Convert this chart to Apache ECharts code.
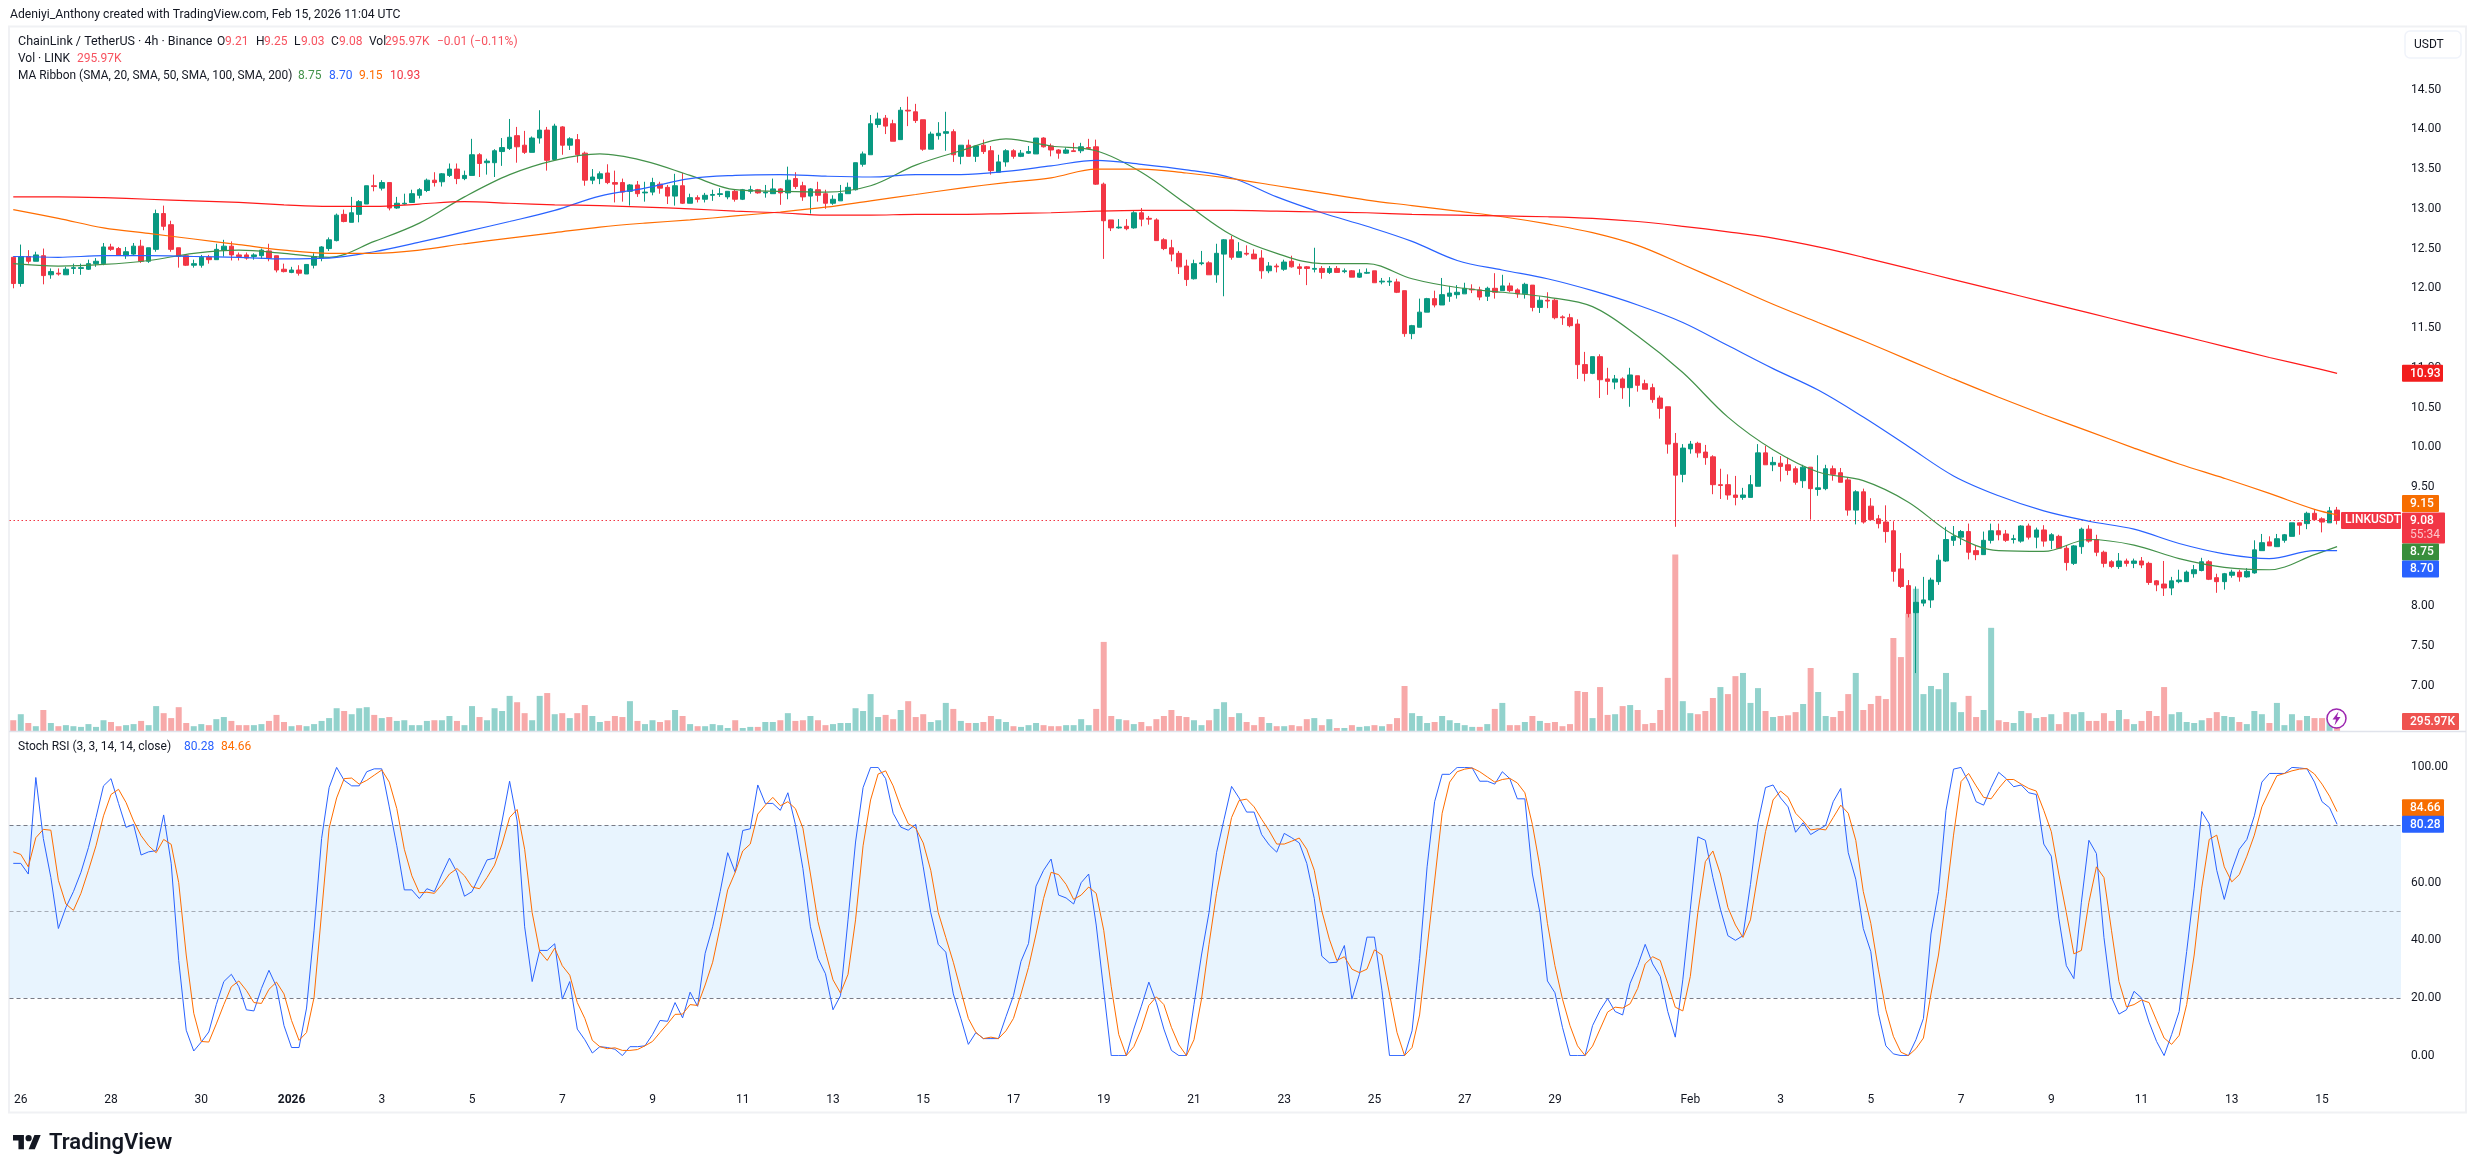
<!DOCTYPE html>
<html>
<head>
<meta charset="utf-8">
<title>LINKUSDT 4h</title>
<style>html,body{margin:0;padding:0;background:#fff}#chart{width:2475px;height:1173px}</style>
<script src="https://cdn.jsdelivr.net/npm/echarts@6/dist/echarts.min.js"></script>
</head>
<body>
<div id="chart"></div>
<script>
// 4h candles, one row per bar: [open, high, low, close]
const ohlc = [
[12.39,12.40,12.00,12.06],[12.06,12.55,12.02,12.40],[12.40,12.48,12.31,12.34],[12.34,12.46,12.34,12.42],[12.41,12.50,12.05,12.16],[12.17,12.25,12.12,12.21],[12.19,12.25,12.16,12.18],[12.17,12.27,12.17,12.24],[12.25,12.31,12.18,12.26],[12.25,12.31,12.17,12.26],
[12.24,12.36,12.23,12.31],[12.31,12.38,12.27,12.34],[12.31,12.57,12.29,12.52],[12.52,12.56,12.47,12.49],[12.50,12.52,12.41,12.42],[12.41,12.52,12.37,12.46],[12.43,12.57,12.41,12.53],[12.53,12.61,12.32,12.34],[12.34,12.51,12.32,12.51],[12.49,12.99,12.46,12.94],
[12.94,13.04,12.73,12.78],[12.80,12.85,12.46,12.49],[12.51,12.51,12.26,12.40],[12.41,12.43,12.28,12.29],[12.29,12.36,12.26,12.31],[12.29,12.42,12.26,12.39],[12.39,12.42,12.31,12.36],[12.36,12.56,12.36,12.49],[12.48,12.61,12.40,12.53],[12.53,12.59,12.35,12.42],
[12.42,12.45,12.35,12.40],[12.42,12.45,12.36,12.38],[12.40,12.44,12.36,12.42],[12.41,12.50,12.37,12.48],[12.47,12.56,12.34,12.38],[12.41,12.41,12.20,12.23],[12.24,12.31,12.20,12.21],[12.20,12.27,12.19,12.23],[12.23,12.29,12.16,12.19],[12.18,12.30,12.18,12.30],
[12.29,12.44,12.25,12.40],[12.38,12.53,12.34,12.52],[12.50,12.64,12.47,12.61],[12.60,12.94,12.59,12.92],[12.93,12.99,12.83,12.84],[12.83,13.15,12.83,12.95],[12.93,13.11,12.83,13.09],[13.06,13.29,13.06,13.29],[13.29,13.43,13.22,13.28],[13.26,13.36,13.23,13.33],
[13.33,13.33,12.98,13.01],[13.01,13.15,13.00,13.07],[13.06,13.19,13.05,13.07],[13.08,13.24,13.08,13.19],[13.17,13.26,13.13,13.24],[13.23,13.38,13.21,13.36],[13.36,13.46,13.28,13.33],[13.34,13.45,13.28,13.44],[13.42,13.57,13.40,13.50],[13.50,13.57,13.31,13.38],
[13.38,13.48,13.36,13.42],[13.42,13.88,13.42,13.68],[13.68,13.70,13.40,13.57],[13.58,13.63,13.43,13.60],[13.58,13.75,13.40,13.73],[13.72,13.89,13.54,13.77],[13.76,14.13,13.74,13.90],[13.92,14.03,13.58,13.78],[13.80,13.98,13.69,13.71],[13.71,13.91,13.71,13.89],
[13.89,14.24,13.82,13.99],[13.99,14.03,13.48,13.61],[13.62,14.07,13.61,14.04],[14.03,14.04,13.68,13.80],[13.80,13.90,13.74,13.88],[13.87,13.94,13.58,13.68],[13.70,13.72,13.29,13.36],[13.36,13.50,13.31,13.40],[13.38,13.47,13.31,13.44],[13.45,13.56,13.31,13.33],
[13.33,13.48,13.08,13.31],[13.33,13.38,13.09,13.21],[13.22,13.31,13.04,13.30],[13.30,13.35,13.15,13.19],[13.20,13.34,13.09,13.21],[13.21,13.39,13.17,13.33],[13.31,13.34,13.19,13.26],[13.27,13.30,13.06,13.16],[13.16,13.44,13.04,13.29],[13.29,13.45,13.06,13.07],
[13.07,13.19,13.07,13.14],[13.14,13.17,13.08,13.12],[13.12,13.20,13.08,13.17],[13.17,13.24,13.10,13.18],[13.18,13.26,13.15,13.19],[13.15,13.22,13.12,13.22],[13.22,13.24,13.09,13.12],[13.12,13.25,13.11,13.24],[13.22,13.29,13.19,13.24],[13.24,13.25,13.19,13.20],
[13.20,13.30,13.14,13.21],[13.19,13.38,13.19,13.25],[13.25,13.26,13.05,13.20],[13.20,13.53,13.12,13.36],[13.38,13.46,13.25,13.28],[13.29,13.34,13.10,13.15],[13.16,13.26,12.94,13.25],[13.24,13.34,13.09,13.17],[13.19,13.24,13.00,13.07],[13.07,13.17,13.05,13.12],
[13.10,13.30,13.10,13.19],[13.19,13.33,13.19,13.27],[13.24,13.58,13.23,13.58],[13.56,13.72,13.53,13.69],[13.68,14.18,13.68,14.07],[14.06,14.21,14.02,14.13],[14.14,14.18,13.94,14.04],[14.07,14.12,13.85,13.85],[13.87,14.28,13.87,14.24],[14.24,14.41,14.04,14.23],
[14.22,14.32,14.08,14.11],[14.12,14.12,13.73,13.75],[13.75,13.97,13.75,13.94],[13.92,14.09,13.87,13.95],[13.95,14.22,13.73,13.97],[13.97,14.00,13.59,13.68],[13.66,13.80,13.56,13.80],[13.80,13.87,13.66,13.66],[13.66,13.80,13.59,13.79],[13.80,13.87,13.69,13.72],
[13.73,13.79,13.43,13.48],[13.46,13.68,13.46,13.59],[13.59,13.75,13.53,13.73],[13.73,13.75,13.63,13.66],[13.66,13.74,13.65,13.70],[13.70,13.79,13.69,13.72],[13.69,13.89,13.69,13.89],[13.89,13.90,13.77,13.78],[13.79,13.82,13.66,13.74],[13.74,13.75,13.63,13.70],
[13.70,13.77,13.69,13.74],[13.73,13.83,13.72,13.72],[13.73,13.83,13.70,13.78],[13.77,13.88,13.75,13.76],[13.78,13.87,13.30,13.31],[13.31,13.33,12.37,12.85],[12.86,12.86,12.72,12.76],[12.76,12.87,12.75,12.77],[12.78,12.87,12.73,12.75],[12.76,12.97,12.75,12.95],
[12.95,13.01,12.78,12.87],[12.88,12.91,12.80,12.87],[12.86,12.88,12.60,12.60],[12.61,12.63,12.48,12.50],[12.51,12.61,12.34,12.43],[12.44,12.47,12.18,12.27],[12.28,12.36,12.03,12.11],[12.12,12.36,12.11,12.31],[12.31,12.47,12.29,12.32],[12.32,12.34,12.17,12.17],
[12.17,12.56,12.07,12.44],[12.43,12.62,11.90,12.61],[12.61,12.66,12.36,12.39],[12.39,12.58,12.39,12.46],[12.44,12.54,12.41,12.43],[12.43,12.49,12.37,12.37],[12.38,12.48,12.12,12.22],[12.22,12.33,12.19,12.28],[12.28,12.31,12.20,12.27],[12.24,12.36,12.22,12.33],
[12.34,12.41,12.26,12.27],[12.27,12.31,12.17,12.25],[12.27,12.28,12.04,12.25],[12.24,12.51,12.20,12.25],[12.25,12.28,12.12,12.20],[12.20,12.28,12.18,12.25],[12.25,12.28,12.20,12.20],[12.21,12.25,12.19,12.22],[12.22,12.23,12.14,12.14],[12.14,12.24,12.13,12.19],
[12.19,12.25,12.18,12.20],[12.22,12.22,12.07,12.07],[12.08,12.13,12.05,12.09],[12.08,12.14,12.03,12.09],[12.08,12.12,11.94,11.95],[11.97,11.97,11.39,11.43],[11.43,11.54,11.36,11.53],[11.51,11.87,11.51,11.70],[11.70,11.88,11.70,11.87],[11.87,11.97,11.76,11.79],
[11.79,12.13,11.79,11.92],[11.90,12.03,11.83,11.94],[11.92,12.04,11.87,11.95],[11.93,12.07,11.93,12.00],[11.99,12.05,11.94,11.98],[11.98,12.02,11.85,11.89],[11.90,12.02,11.84,12.00],[12.00,12.19,11.87,11.95],[11.97,12.17,11.97,12.03],[12.03,12.07,11.95,11.97],
[11.98,12.00,11.88,11.93],[11.93,12.07,11.87,12.05],[12.04,12.04,11.71,11.76],[11.76,11.90,11.69,11.85],[11.85,11.95,11.75,11.84],[11.85,11.87,11.61,11.63],[11.64,11.66,11.54,11.63],[11.63,11.68,11.51,11.53],[11.55,11.61,10.86,11.04],[11.04,11.20,10.83,10.93],
[10.93,11.14,10.92,11.14],[11.14,11.17,10.62,10.85],[10.86,11.00,10.66,10.83],[10.82,10.91,10.73,10.86],[10.86,10.88,10.61,10.75],[10.75,11.00,10.51,10.91],[10.90,10.90,10.70,10.78],[10.80,10.85,10.73,10.73],[10.75,10.80,10.56,10.60],[10.62,10.65,10.36,10.49],
[10.51,10.51,9.92,10.04],[10.05,10.18,9.00,9.65],[9.66,10.04,9.56,9.99],[9.98,10.08,9.92,10.04],[10.05,10.07,9.87,9.93],[9.94,10.03,9.78,9.87],[9.88,9.90,9.41,9.53],[9.53,9.73,9.35,9.52],[9.53,9.66,9.34,9.40],[9.40,9.64,9.27,9.37],
[9.37,9.49,9.34,9.40],[9.37,9.65,9.37,9.53],[9.51,10.04,9.51,9.93],[9.93,10.02,9.78,9.78],[9.78,9.88,9.70,9.81],[9.80,9.89,9.57,9.76],[9.78,9.87,9.65,9.71],[9.73,9.76,9.53,9.56],[9.58,9.78,9.49,9.75],[9.75,9.75,9.09,9.48],
[9.47,9.90,9.39,9.49],[9.48,9.78,9.46,9.73],[9.73,9.77,9.58,9.66],[9.68,9.74,9.56,9.56],[9.59,9.62,9.14,9.21],[9.21,9.46,9.03,9.44],[9.44,9.48,9.04,9.06],[9.26,9.36,9.09,9.09],[9.10,9.15,8.98,9.04],[9.06,9.27,8.80,8.94],
[8.95,9.07,8.31,8.44],[8.47,8.67,8.23,8.25],[8.26,8.33,7.86,7.91],[7.92,8.25,7.16,8.05],[8.04,8.37,8.00,8.08],[8.08,8.36,7.98,8.33],[8.31,8.65,8.27,8.58],[8.57,9.00,8.56,8.84],[8.83,9.01,8.76,8.88],[8.87,8.96,8.77,8.94],
[8.94,9.04,8.59,8.68],[8.70,8.76,8.58,8.65],[8.65,8.94,8.65,8.83],[8.83,9.04,8.79,8.95],[8.95,9.04,8.83,8.90],[8.91,8.96,8.81,8.83],[8.84,8.90,8.79,8.85],[8.82,9.02,8.80,9.01],[9.01,9.04,8.84,8.87],[8.87,8.99,8.73,8.96],
[8.96,9.02,8.75,8.82],[8.83,8.92,8.72,8.90],[8.88,8.90,8.72,8.73],[8.73,8.76,8.45,8.55],[8.54,8.77,8.52,8.76],[8.75,8.99,8.66,8.97],[8.97,9.02,8.80,8.82],[8.84,8.90,8.63,8.68],[8.68,8.70,8.49,8.54],[8.56,8.58,8.48,8.50],
[8.50,8.67,8.47,8.57],[8.57,8.60,8.50,8.54],[8.54,8.60,8.48,8.57],[8.57,8.62,8.48,8.52],[8.54,8.56,8.27,8.30],[8.32,8.33,8.19,8.27],[8.28,8.57,8.13,8.23],[8.23,8.37,8.14,8.32],[8.31,8.46,8.29,8.33],[8.31,8.45,8.31,8.43],
[8.41,8.52,8.36,8.46],[8.45,8.61,8.44,8.56],[8.56,8.58,8.33,8.34],[8.36,8.41,8.17,8.31],[8.31,8.42,8.21,8.41],[8.39,8.46,8.36,8.43],[8.43,8.46,8.31,8.37],[8.37,8.48,8.36,8.44],[8.42,8.83,8.41,8.71],[8.70,8.91,8.70,8.80],
[8.81,8.88,8.76,8.76],[8.75,8.91,8.75,8.85],[8.83,8.91,8.80,8.90],[8.88,9.05,8.88,9.05],[9.05,9.05,8.90,9.02],[9.04,9.19,8.97,9.17],[9.17,9.21,9.08,9.09],[9.10,9.12,8.93,9.06],[9.05,9.25,9.05,9.20],[9.21,9.25,9.03,9.08]
];

// Volume per bar, in thousands of LINK
const volumes = [
334,512,251,157,637,251,157,188,157,136,219,136,334,282,157,188,219,313,188,752,
543,397,720,251,157,219,188,365,428,313,188,188,188,219,313,491,282,157,188,157,
219,313,397,689,606,512,689,720,491,397,428,313,334,188,188,313,334,334,459,313,
188,752,428,334,689,606,1054,867,543,334,1054,1138,512,543,397,543,783,459,282,313,
459,428,898,313,219,334,282,334,637,459,219,157,157,219,188,104,334,104,136,136,
282,282,334,543,313,334,459,334,188,219,251,251,689,606,1107,428,491,365,637,898,
428,512,282,334,846,668,313,251,251,282,459,365,282,157,136,188,251,188,157,157,
188,188,365,188,668,2652,459,365,334,219,282,157,365,459,637,459,428,334,188,334,
668,867,428,543,282,188,428,251,157,157,188,157,365,397,188,365,104,104,188,136,
157,188,157,219,397,1347,543,459,251,282,459,334,251,188,136,136,219,668,846,188,
188,282,459,313,251,282,157,219,1200,1169,397,1315,491,512,752,783,637,219,251,637,
1587,5241,898,543,512,606,992,1315,1107,1639,1733,846,1284,606,428,459,480,574,814,1879,
1169,459,428,606,1107,1733,637,814,1054,960,2767,2203,3497,4228,1107,1347,1253,1733,867,574,
1054,428,637,3069,334,282,251,606,543,397,428,512,219,574,512,574,313,313,543,313,
637,365,219,313,606,459,1315,512,574,282,251,334,397,574,459,428,282,219,606,512,
251,846,188,512,334,459,397,397,397,296
];
// Near-flat bars whose volume colour differs from the candle body
const flippedVolumeBars = [141,143,183,194,227];

// Ribbon averages, read once per day, plus the last bar
const ribbonBars = [0,6,12,18,24,30,36,42,48,54,60,66,72,78,84,90,96,102,108,114,120,126,132,138,144,150,156,162,168,174,180,186,192,198,204,210,216,222,228,234,240,246,252,258,264,270,276,282,288,294,300,306,309];
const ma20 = [12.31,12.28,12.30,12.35,12.44,12.48,12.44,12.39,12.59,12.82,13.15,13.43,13.61,13.69,13.60,13.42,13.24,13.22,13.21,13.29,13.55,13.73,13.88,13.79,13.73,13.46,13.06,12.67,12.44,12.31,12.31,12.12,12.01,11.95,11.89,11.77,11.40,10.94,10.38,9.97,9.69,9.58,9.31,8.90,8.70,8.69,8.84,8.77,8.60,8.49,8.46,8.65,8.75];
const ma50 = [12.40,12.39,12.41,12.41,12.40,12.39,12.37,12.38,12.46,12.58,12.71,12.84,12.98,13.16,13.26,13.38,13.42,13.43,13.41,13.40,13.43,13.43,13.47,13.54,13.61,13.56,13.49,13.39,13.15,12.95,12.78,12.59,12.35,12.23,12.12,11.97,11.79,11.57,11.28,10.99,10.72,10.38,10.01,9.64,9.39,9.20,9.07,8.97,8.79,8.66,8.60,8.70,8.70];
const ma100 = [12.99,12.88,12.76,12.69,12.62,12.55,12.48,12.44,12.44,12.48,12.56,12.63,12.70,12.77,12.82,12.86,12.91,12.96,13.02,13.10,13.18,13.26,13.33,13.39,13.50,13.50,13.45,13.38,13.29,13.20,13.11,13.04,12.97,12.90,12.81,12.70,12.54,12.30,12.05,11.80,11.57,11.34,11.10,10.86,10.63,10.41,10.20,9.99,9.79,9.61,9.42,9.22,9.15];
const ma200 = [13.15,13.15,13.14,13.12,13.10,13.08,13.05,13.03,13.03,13.06,13.09,13.07,13.05,13.04,13.02,13.00,12.97,12.95,12.92,12.92,12.93,12.93,12.94,12.95,12.97,12.98,12.98,12.98,12.97,12.96,12.95,12.93,12.92,12.91,12.90,12.88,12.84,12.78,12.71,12.63,12.52,12.39,12.25,12.11,11.97,11.83,11.69,11.55,11.41,11.27,11.13,11.00,10.93];

// Stochastic RSI, one value per bar
const stochK = [
66.7,66.7,63.0,96.5,75.3,61.8,44.1,51.4,56.9,63.6,72.2,82.6,93.6,96.1,87.5,79.2,80.2,69.6,70.7,71.1,
83.5,66.7,33.0,8.8,1.6,4.7,8.2,17.7,25.7,28.2,23.9,15.9,15.5,23.3,29.6,23.9,10.4,2.8,2.8,16.5,
43.5,75.3,93.0,100,95.5,93.6,93.6,98.5,99.5,99.5,86.3,72.8,57.5,57.5,54.5,57.9,56.9,63.0,68.5,63.6,
55.3,56.9,62.4,67.9,68.5,81.4,95.2,81.4,44.7,25.7,36.5,36.5,38.8,19.6,25.7,9.2,5.5,0.9,3.1,2.8,
2.2,0,3.1,3.1,3.4,7.3,12.2,11.9,18.4,13.1,22.0,17.1,35.5,44.7,56.9,70.4,63.6,78.1,78.7,93.9,
87.5,87.5,85.1,91.2,80.2,64.9,44.7,33.7,28.4,15.9,20.8,47.1,74.1,93.0,100,100,96.1,84.1,79.3,78.2,
80.2,65.5,49.6,38.6,35.9,21.4,12.9,3.9,8.0,5.9,5.9,5.9,13.5,20.8,32.7,38.9,58.8,64.3,68.2,55.7,
54.7,52.6,60.0,63.0,45.3,22.6,0,0,0,9.2,17.1,25.5,18.4,9.2,1.8,0,0,17.7,34.9,49.6,
70.4,82.0,93.4,89.4,84.5,84.5,76.7,73.1,70.6,77.1,75.6,73.8,66.7,54.5,34.5,32.2,32.4,38.2,19.6,28.2,
41.1,41.1,22.6,0,0,0,8.6,33.7,65.5,88.1,97.6,97.6,100,100,99.8,95.2,95.2,94.2,98.5,96.1,
89.1,89.1,63.0,49.6,25.9,21.8,9.8,0,0,0,10.4,15.7,19.8,15.3,14.1,25.1,31.2,38.6,31.8,27.5,
15.3,6.4,26.3,50.8,75.9,74.7,61.8,50.8,41.6,40.0,41.6,59.4,80.8,93.0,93.9,89.4,86.3,77.5,80.8,76.7,
78.3,79.9,88.1,92.7,70.4,61.2,44.1,36.1,14.7,3.4,0.6,0,0,5.5,12.9,42.2,56.9,85.1,99.4,100,
94.9,88.1,86.9,93.0,98.3,96.1,93.3,93.9,91.2,90.6,73.4,69.2,47.7,31.2,26.7,53.2,74.7,70.1,41.0,20.2,
14.4,15.9,22.3,20.0,11.6,4.9,0,7.3,15.3,36.1,58.1,84.7,80.4,64.3,54.2,64.3,71.6,75.0,83.2,94.9,
97.9,97.9,97.9,100,99.8,99.5,94.9,88.1,86.0,80.28
];
const stochD = [
70.7,69.8,65.5,75.6,78.5,78.2,60.8,52.6,50.4,56.3,64.3,72.8,83.2,90.6,92.4,87.8,81.4,76.3,72.8,70.4,
75.0,73.3,60.0,34.9,14.7,4.9,4.7,11.0,17.7,23.9,25.9,22.6,18.4,18.1,23.0,25.5,21.4,12.2,5.3,8.0,
20.2,49.6,78.9,89.4,96.1,96.3,94.2,95.5,97.3,99.1,94.9,85.7,71.6,62.4,56.5,56.7,56.3,59.4,63.0,64.9,
62.4,58.5,57.9,61.8,66.1,73.4,82.6,85.4,71.6,49.6,36.1,33.0,37.3,31.2,27.9,18.4,12.9,5.3,3.1,2.4,
2.7,1.8,1.8,2.1,3.4,4.9,8.0,11.0,14.3,14.4,17.7,17.4,24.5,32.4,44.7,57.5,63.6,71.0,73.4,83.8,
86.9,89.6,86.7,88.1,85.7,78.9,63.0,46.5,36.1,26.3,21.7,28.2,47.1,72.8,88.7,97.7,98.8,93.6,86.3,80.5,
78.9,73.8,64.3,49.6,41.0,32.4,22.6,12.9,8.0,5.9,6.4,5.9,8.6,12.9,21.4,30.6,42.2,54.5,63.6,62.8,
59.4,54.2,55.7,58.5,56.3,43.5,23.9,7.3,0,3.1,9.2,17.4,20.4,17.7,9.8,3.7,0,5.5,19.6,38.6,
56.3,69.8,82.6,88.5,89.0,86.3,82.0,78.0,73.4,73.4,74.4,75.5,71.6,64.3,50.2,40.4,33.0,34.3,30.0,28.8,
30.0,36.7,34.9,21.4,8.0,0,2.8,14.1,37.3,60.6,84.1,94.9,98.5,99.4,99.8,98.5,96.7,94.9,95.8,96.2,
94.6,91.2,80.2,65.5,45.9,31.2,19.6,10.4,3.4,0,3.3,9.2,15.1,16.8,16.5,18.0,23.3,31.8,34.3,33.0,
25.1,16.8,15.5,27.5,49.6,67.3,71.0,63.0,51.4,45.3,41.0,47.1,63.0,77.7,88.7,91.8,89.6,84.1,81.4,78.3,
78.7,78.3,82.6,86.9,84.1,74.7,56.9,45.9,30.0,15.9,6.7,1.2,0,2.4,6.1,21.4,34.9,54.5,76.5,95.1,
97.9,93.6,89.6,89.1,92.7,95.8,95.8,94.2,92.7,91.8,85.1,77.7,63.0,49.6,35.3,36.5,53.2,65.5,61.8,43.5,
25.7,16.9,17.7,19.3,18.4,12.2,6.1,3.9,7.0,17.7,34.9,58.1,75.0,76.5,65.5,60.3,62.8,69.2,76.5,86.3,
91.8,97.1,97.9,98.8,99.4,99.6,97.7,94.2,90.0,84.66
];

// Day labels along the time axis: bar index of each midnight shown
const timeTicks = [[1,'26'],[13,'28'],[25,'30'],[37,'2026'],[49,'3'],[61,'5'],[73,'7'],[85,'9'],[97,'11'],[109,'13'],[121,'15'],[133,'17'],[145,'19'],[157,'21'],[169,'23'],[181,'25'],[193,'27'],[205,'29'],[223,'Feb'],[235,'3'],[247,'5'],[259,'7'],[271,'9'],[283,'11'],[295,'13'],[307,'15']];

const FONT = 'Roboto, "Liberation Sans", sans-serif';
const AXIS_PX = 12;
const INK = '#131722';
const UP = '#089981', DOWN = '#f23645';
const VOL_UP = '#92d2cc', VOL_DOWN = '#f7a9a9';
const C_MA20 = '#43924a', C_MA50 = '#2962ff', C_MA100 = '#ff6d00', C_MA200 = '#ff1a1a';
const BLUE = '#2962ff', ORANGE = '#ff6d00';

const BAND_SLOTS = 318; // room for the empty bars right of the last candle
const categories = Array.from({length: BAND_SLOTS}, (_, i) => String(i));
const tickAt = new Map(timeTicks);
const lastBar = ohlc.length - 1;

const PLOT = {left: 9.5, width: 2391.5};
const PRICE_TOP = 49.8, PRICE_H = 675.75;      // 15.00 .. 6.50
const VOL_TOP = 27, VOL_H = 704.5;
const STOCH_TOP = 767.4, STOCH_H = 288.2;      // 100 .. 0

const zip = (idx, vals) => idx.map((x, k) => [x, vals[k]]);
const rowsToCandle = ohlc.map(([o, h, l, c]) => [o, c, l, h]);
const volumeData = volumes.map((v, i) => {
  let up = ohlc[i][3] >= ohlc[i][0];
  if (flippedVolumeBars.includes(i)) up = !up;
  return {value: v, itemStyle: {color: up ? VOL_UP : VOL_DOWN}};
});
const maLine = (name, vals, color) => ({
  name, type: 'line', xAxisIndex: 0, yAxisIndex: 0, data: zip(ribbonBars, vals),
  showSymbol: false, symbol: 'none', silent: true, z: 6, smooth: 0.35,
  lineStyle: {color, width: 1.2}
});
const hiddenX = (grid) => ({
  type: 'category', gridIndex: grid, data: categories, boundaryGap: true,
  axisLine: {show: false}, axisTick: {show: false}, axisLabel: {show: false}, splitLine: {show: false}
});

const chart = echarts.init(document.getElementById('chart'), null, {renderer: 'canvas'});
chart.setOption({
  animation: false,
  backgroundColor: '#ffffff',
  grid: [
    {left: PLOT.left, width: PLOT.width, top: PRICE_TOP, height: PRICE_H},
    {left: PLOT.left, width: PLOT.width, top: VOL_TOP, height: VOL_H},
    {left: PLOT.left, width: PLOT.width, top: STOCH_TOP, height: STOCH_H}
  ],
  xAxis: [
    hiddenX(0),
    hiddenX(1),
    {
      type: 'category', gridIndex: 2, data: categories, boundaryGap: true,
      axisLine: {show: false}, axisTick: {show: false}, splitLine: {show: false},
      axisLabel: {
        show: true, interval: (i) => tickAt.has(i), margin: 38, hideOverlap: false,
        fontFamily: FONT, fontSize: AXIS_PX, color: INK,
        formatter: (v, i) => tickAt.get(i) === '2026' ? '{y|2026}' : (tickAt.get(i) || ''),
        rich: {y: {fontFamily: FONT, fontSize: AXIS_PX, fontWeight: 'bold', color: INK}}
      }
    }
  ],
  yAxis: [
    {
      type: 'value', gridIndex: 0, position: 'right', min: 6.5, max: 15, interval: 0.5,
      axisLine: {show: false}, axisTick: {show: false}, splitLine: {show: false},
      axisLabel: {
        margin: 10, fontFamily: FONT, fontSize: AXIS_PX, color: INK, padding: [2, 0, 0, 0],
        formatter: (v) => (v < 7 || v > 14.5) ? '' : v.toFixed(2)
      }
    },
    {
      type: 'value', gridIndex: 1, position: 'right', min: 0, max: 20853,
      axisLine: {show: false}, axisTick: {show: false}, axisLabel: {show: false}, splitLine: {show: false}
    },
    {
      type: 'value', gridIndex: 2, position: 'right', min: 0, max: 100, interval: 20,
      axisLine: {show: false}, axisTick: {show: false}, splitLine: {show: false},
      axisLabel: {margin: 10, fontFamily: FONT, fontSize: AXIS_PX, color: INK, padding: [2, 0, 0, 0], formatter: (v) => v.toFixed(2)}
    }
  ],
  series: [
    {
      name: 'Vol', type: 'bar', xAxisIndex: 1, yAxisIndex: 1, data: volumeData,
      barWidth: 6, silent: true, z: 1
    },
    {
      name: 'LINKUSDT', type: 'candlestick', xAxisIndex: 0, yAxisIndex: 0, data: rowsToCandle,
      barWidth: 5, silent: true, z: 4, clip: false,
      itemStyle: {color: UP, color0: DOWN, borderColor: UP, borderColor0: DOWN, borderWidth: 1},
      markLine: {
        silent: true, symbol: 'none', animation: false,
        label: {show: false},
        lineStyle: {color: DOWN, type: [1.5, 2.5], width: 1},
        data: [{yAxis: ohlc[lastBar][3]}]
      }
    },
    maLine('MA20', ma20, C_MA20),
    maLine('MA50', ma50, C_MA50),
    maLine('MA100', ma100, C_MA100),
    maLine('MA200', ma200, C_MA200),
    {
      name: 'Stoch K', type: 'line', xAxisIndex: 2, yAxisIndex: 2, data: stochK,
      showSymbol: false, symbol: 'none', silent: true, z: 5,
      lineStyle: {color: BLUE, width: 1},
      markArea: {
        silent: true, animation: false,
        itemStyle: {color: 'rgba(33,150,243,0.1)'},
        data: [[{yAxis: 20}, {yAxis: 80}]]
      },
      markLine: {
        silent: true, symbol: 'none', animation: false,
        label: {show: false},
        data: [
          {yAxis: 80, lineStyle: {color: '#787b86', type: [4, 3], width: 1}},
          {yAxis: 50, lineStyle: {color: 'rgba(120,123,134,0.6)', type: [4, 3], width: 1}},
          {yAxis: 20, lineStyle: {color: '#787b86', type: [4, 3], width: 1}}
        ]
      }
    },
    {
      name: 'Stoch D', type: 'line', xAxisIndex: 2, yAxisIndex: 2, data: stochD,
      showSymbol: false, symbol: 'none', silent: true, z: 6,
      lineStyle: {color: ORANGE, width: 1}
    }
  ]
});

// Overlay furniture: frame, legend text, price tags, logo
const priceY = (p) => chart.convertToPixel({gridIndex: 0, yAxisIndex: 0}, p);
const stochY = (v) => chart.convertToPixel({gridIndex: 2, yAxisIndex: 2}, v);
const label = (x, y, text, color, extra) => ({
  type: 'text', x, y, z: 50,
  style: Object.assign({text, fill: color || INK, font: AXIS_PX + 'px ' + FONT, textVerticalAlign: 'middle', textAlign: 'left'}, extra || {})
});
const box = (x, y, w, h, fill, r) => ({
  type: 'rect', z: 40, shape: {x, y, width: w, height: h, r: r === undefined ? 1 : r}, style: {fill}
});
const tag = (yCentre, h, w, fill, text) => [
  box(2402, yCentre - h / 2, w, h, fill),
  label(2410, yCentre + 0.5, text, '#ffffff', {font: '500 ' + AXIS_PX + 'px ' + FONT})
];

const closeY = priceY(ohlc[lastBar][3]);
const kY = stochY(stochK[lastBar]);
const V_TXT = '#f7525f';
const LOGO = {x: 13, y: 1132, s: 0.78};
const logoPt = ([px, py]) => [LOGO.x + px * LOGO.s, LOGO.y + py * LOGO.s];
const graphic = [
  {type: 'rect', z: 0, shape: {x: 9, y: 26.5, width: 2457, height: 1086}, style: {fill: 'none', stroke: '#f0f1f4', lineWidth: 2}},
  {type: 'line', z: 3, shape: {x1: 9, y1: 731.5, x2: 2466, y2: 731.5}, style: {stroke: '#e0e3eb', lineWidth: 1.5}},

  label(10, 15, 'Adeniyi_Anthony created with TradingView.com, Feb 15, 2026 11:04 UTC', INK, {font: '12.2px ' + FONT}),
  label(18, 42, 'ChainLink / TetherUS · 4h · Binance', INK, {font: '12.5px ' + FONT}),
  label(217, 42, 'O'), label(225, 42, '9.21', V_TXT),
  label(256, 42, 'H'), label(264, 42, '9.25', V_TXT),
  label(294, 42, 'L'), label(301, 42, '9.03', V_TXT),
  label(331, 42, 'C'), label(339, 42, '9.08', V_TXT),
  label(369, 42, 'Vol'), label(385, 42, '295.97K', V_TXT),
  label(437, 42, '−0.01 (−0.11%)', V_TXT),
  label(18, 59, 'Vol · LINK'), label(77, 59, '295.97K', V_TXT),
  label(18, 76, 'MA Ribbon (SMA, 20, SMA, 50, SMA, 100, SMA, 200)', INK, {font: '11.9px ' + FONT}),
  label(298, 76, '8.75', '#43924a'), label(329, 76, '8.70', BLUE), label(359, 76, '9.15', ORANGE), label(390, 76, '10.93', DOWN),
  label(18, 747, 'Stoch RSI (3, 3, 14, 14, close)', INK, {font: '12px ' + FONT}),
  label(184, 747, '80.28', BLUE), label(221, 747, '84.66', ORANGE),

  {type: 'rect', z: 38, shape: {x: 2405, y: 31, width: 56, height: 27, r: 5}, style: {fill: '#ffffff', stroke: '#f0f3fa', lineWidth: 1.5}},
  label(2414, 45, 'USDT'),

  // price tags, stacked around the last close
  box(2341, closeY - 8.5, 60, 17, DOWN),
  label(2345, closeY, 'LINKUSDT', '#ffffff', {font: '500 ' + AXIS_PX + 'px ' + FONT}),
  ...tag(closeY - 17, 17, 37, '#f76d00', '9.15'),
  box(2402, closeY - 8, 43, 31, DOWN),
  label(2410, closeY + 0.5, '9.08', '#ffffff', {font: '500 ' + AXIS_PX + 'px ' + FONT}),
  label(2410, closeY + 15, '55:34', '#fbc5ca'),
  ...tag(closeY + 31.5, 17, 37, '#388e3c', '8.75'),
  ...tag(closeY + 48.5, 17, 37, BLUE, '8.70'),
  ...tag(priceY(10.93), 17, 41, '#f21d1d', '10.93'),
  ...tag(721.5, 17, 57, '#ef5350', '295.97K'),
  ...tag(kY - 16.5, 17, 42, '#f76d00', '84.66'),
  ...tag(kY, 17, 42, BLUE, '80.28'),

  // lightning badge on the last bar
  {type: 'circle', z: 30, shape: {cx: 2336.5, cy: 718.5, r: 9.5}, style: {fill: '#ffffff', stroke: '#9c27b0', lineWidth: 1.5}},
  {type: 'polygon', z: 31, shape: {points: [[2338.5, 711.5], [2332.5, 719.5], [2336, 719.5], [2334.5, 725.5], [2340.5, 717], [2337, 717]]}, style: {fill: '#9c27b0'}},

  // wordmark
  {type: 'polygon', z: 30, shape: {points: [[14, 22], [7, 22], [7, 11], [0, 11], [0, 4], [14, 4]].map(logoPt)}, style: {fill: INK}},
  {type: 'polygon', z: 30, shape: {points: [[28, 22], [20, 22], [27.5, 4], [35.5, 4]].map(logoPt)}, style: {fill: INK}},
  {type: 'circle', z: 30, shape: {cx: LOGO.x + 20 * LOGO.s, cy: LOGO.y + 8 * LOGO.s, r: 4 * LOGO.s}, style: {fill: INK}},
  label(49, 1143, 'TradingView', INK, {font: '600 22px ' + FONT})
];
chart.setOption({graphic});
</script>
</body>
</html>
